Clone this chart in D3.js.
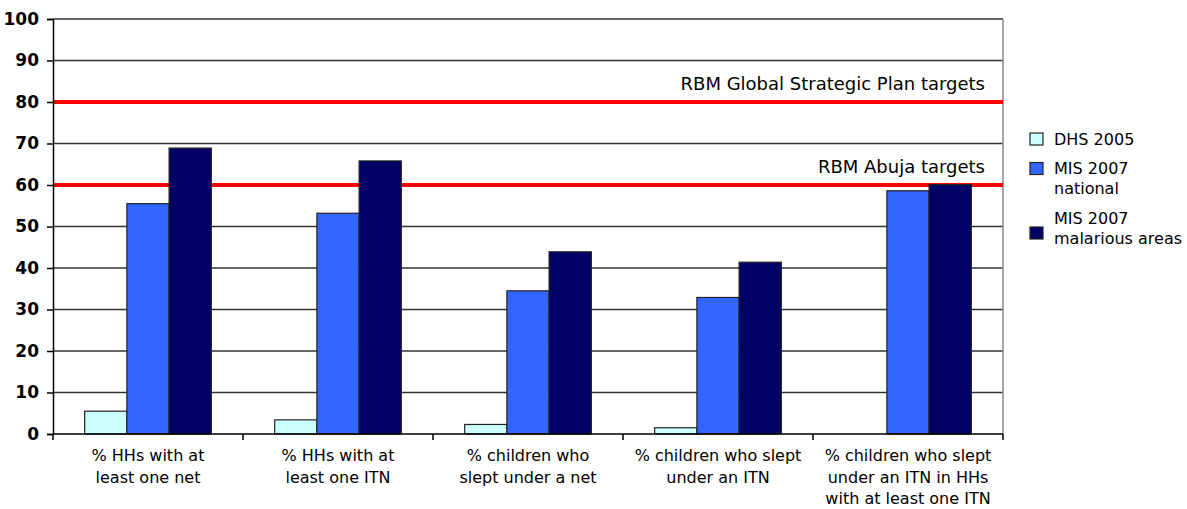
<!DOCTYPE html>
<html>
<head>
<meta charset="utf-8">
<script src="https://cdn.jsdelivr.net/npm/d3@7"></script>
<style>
  body { margin: 0; background: #fff; }
  svg text { font-family: Tahoma, "DejaVu Sans", sans-serif; fill: #000; }
</style>
</head>
<body>
<svg class="chart"></svg>
<script>
// chart values
const categories = [
  ["% HHs with at", "least one net"],
  ["% HHs with at", "least one ITN"],
  ["% children who", "slept under a net"],
  ["% children who slept", "under an ITN"],
  ["% children who slept", "under an ITN in HHs", "with at least one ITN"]
]
const seriesNames = [["DHS 2005"], ["MIS 2007", "national"], ["MIS 2007", "malarious areas"]]
const dhs2005 = [5.5, 3.4, 2.3, 1.5, null]
const misNational = [55.5, 53.2, 34.5, 32.9, 58.6]
const misMalarious = [68.9, 65.8, 43.9, 41.4, 60.1]
const targets = [80, 60]
const targetLabels = ["RBM Global Strategic Plan targets", "RBM Abuja targets"]
const yTicks = [0, 10, 20, 30, 40, 50, 60, 70, 80, 90, 100]
const colors = ["#ccffff", "#3366ff", "#000066"]

const width = 1187
const height = 509
const padding = ({top: 19, right: 184, bottom: 75, left: 53})

const svg = d3.select('svg.chart')
  .attr('width', width)
  .attr('height', height)

const series = [dhs2005, misNational, misMalarious]

const xScale = d3.scaleBand()
  .domain(d3.range(categories.length))
  .range([padding.left, width - padding.right])

// bars with 150% gap width like excel
const inner = d3.scaleBand()
  .domain(d3.range(series.length))
  .range([0, xScale.bandwidth()])
  .paddingOuter(0.75)

const yScale = d3.scaleLinear()
  .domain([0, 100])
  .range([height - padding.bottom, padding.top])

// gridlines
svg.append('g')
  .selectAll('line')
  .data(yTicks.filter(d => d > 0 && !targets.includes(d)))
  .join('line')
    .attr('x1', padding.left)
    .attr('x2', width - padding.right)
    .attr('y1', d => yScale(d))
    .attr('y2', d => yScale(d))
    .attr('stroke', '#333')
    .attr('stroke-width', 1.5)

// right border of plot
svg.append('line')
  .attr('x1', width - padding.right).attr('x2', width - padding.right)
  .attr('y1', padding.top).attr('y2', yScale(0))
  .attr('stroke', '#888').attr('stroke-width', 1.5)

// target lines
svg.append('g')
  .selectAll('line')
  .data(targets)
  .join('line')
    .attr('x1', padding.left)
    .attr('x2', width - padding.right)
    .attr('y1', d => yScale(d))
    .attr('y2', d => yScale(d))
    .attr('stroke', '#ff0000')
    .attr('stroke-width', 4)

svg.append('g')
  .selectAll('text')
  .data(targets)
  .join('text')
    .attr('x', 985)
    .attr('y', d => yScale(d) - 12)
    .attr('text-anchor', 'end')
    .attr('font-size', 18)
    .text((d, i) => targetLabels[i])

// bars
const groups = svg.append('g')
  .selectAll('g')
  .data(categories)
  .join('g')
    .attr('transform', (d, i) => `translate(${xScale(i)}, 0)`)

groups.selectAll('rect')
  .data((d, i) => series.map((s, j) => ({ s: j, v: s[i] })).filter(d => d.v !== null))
  .join('rect')
    .attr('x', d => inner(d.s))
    .attr('width', inner.bandwidth())
    .attr('y', d => yScale(d.v))
    .attr('height', d => yScale(0) - yScale(d.v))
    .attr('fill', d => colors[d.s])
    .attr('stroke', '#222')
    .attr('stroke-width', 1.2)

// y axis
const yAxis = d3.axisLeft(yScale)
  .tickValues(yTicks)
  .tickSize(6)
  .tickPadding(8)
svg.append('g')
  .attr('transform', `translate(${padding.left}, 0)`)
  .call(yAxis)
  .call(g => g.selectAll('text').attr('font-size', 17).attr('font-weight', 'bold').attr('fill', '#111'))
  .call(g => g.selectAll('line, path').attr('stroke', '#000').attr('stroke-width', 1.5))

// x axis (ticks only at category borders)
const xAxisGroup = svg.append('g')
  .attr('transform', `translate(0, ${yScale(0)})`)
xAxisGroup.append('line')
  .attr('x1', padding.left).attr('x2', width - padding.right)
  .attr('stroke', '#000').attr('stroke-width', 1.5)
xAxisGroup.selectAll('line.tick')
  .data(d3.range(categories.length + 1))
  .join('line')
    .attr('class', 'tick')
    .attr('x1', i => padding.left + i * xScale.step())
    .attr('x2', i => padding.left + i * xScale.step())
    .attr('y1', 0).attr('y2', 6)
    .attr('stroke', '#000').attr('stroke-width', 1.5)

xAxisGroup.selectAll('text')
  .data(categories)
  .join('text')
    .attr('x', (d, i) => xScale(i) + xScale.bandwidth() / 2)
    .attr('y', 27)
    .attr('text-anchor', 'middle')
    .attr('font-size', 16)
    .each(function (d) {
      d3.select(this).selectAll('tspan')
        .data(d)
        .join('tspan')
          .attr('x', d3.select(this).attr('x'))
          .attr('dy', (t, k) => k === 0 ? 0 : 21.5)
          .text(t => t)
    })

// legend: square centre and first text baseline per entry
const legendSquare = [139, 168.5, 233]
const legendText = [144.5, 174, 223.5]
const legend = svg.append('g')
  .selectAll('g')
  .data(seriesNames)
  .join('g')
legend.append('rect')
  .attr('x', 1030).attr('y', (d, i) => legendSquare[i] - 6)
  .attr('width', 13).attr('height', 12)
  .attr('fill', (d, i) => colors[i])
  .attr('stroke', '#222').attr('stroke-width', 1.2)
legend.append('text')
  .attr('x', 1054)
  .attr('font-size', 16)
  .attr('y', (d, i) => legendText[i])
  .selectAll('tspan')
  .data(d => d)
  .join('tspan')
    .attr('x', 1054)
    .attr('dy', (t, k) => k === 0 ? 0 : 20)
    .text(t => t)
</script>
</body>
</html>
